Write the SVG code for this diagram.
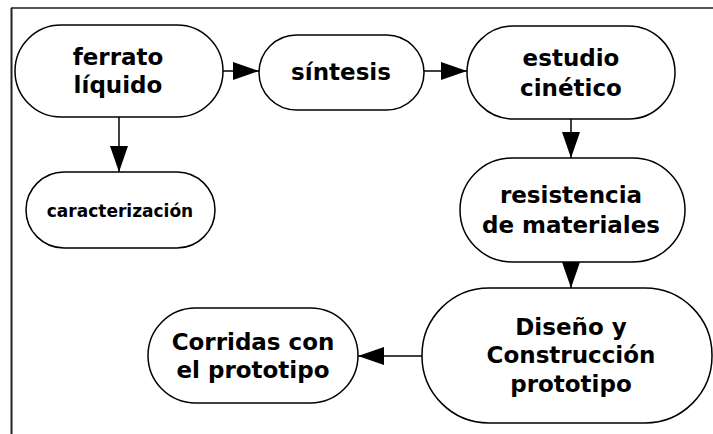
<svg xmlns="http://www.w3.org/2000/svg" width="713" height="434" viewBox="0 0 713 434">
<defs>
<style>
.n{fill:#fff;stroke:#000;stroke-width:1.5}
.t{font-family:"DejaVu Sans",Verdana,sans-serif;font-weight:bold;font-size:23px;fill:#000;text-anchor:middle}
.s{font-size:17px}
.c{stroke:#000;stroke-width:1.5;fill:none}
</style>
<marker id="ah" markerUnits="userSpaceOnUse" markerWidth="26" markerHeight="18" refX="26" refY="9" orient="auto">
<path d="M0,0 L26,9 L0,18 Z" fill="#000"/>
</marker>
</defs>
<rect width="713" height="434" fill="#fff"/>
<g id="frame">
<line x1="11" y1="8" x2="713" y2="8" stroke="#555" stroke-width="2"/>
<line x1="11.5" y1="8" x2="11.5" y2="434" stroke="#222" stroke-width="2"/>
</g>
<g id="connectors">
<line class="c" x1="223" y1="71" x2="259" y2="71" marker-end="url(#ah)"/>
<line class="c" x1="424" y1="71" x2="467" y2="71" marker-end="url(#ah)"/>
<line class="c" x1="119" y1="117" x2="119" y2="172" marker-end="url(#ah)"/>
<line class="c" x1="571" y1="119" x2="571" y2="158" marker-end="url(#ah)"/>
<line class="c" x1="571" y1="262" x2="571" y2="288" marker-end="url(#ah)"/>
<line class="c" x1="422" y1="356" x2="358" y2="356" marker-end="url(#ah)"/>
</g>
<g id="ferrato">
<rect class="n" x="15" y="25" width="208" height="92" rx="46"/>
<text class="t" x="118" y="65">ferrato</text>
<text class="t" x="118" y="93">líquido</text>
</g>
<g id="sintesis">
<rect class="n" x="259" y="35" width="165" height="75" rx="37.5"/>
<text class="t" x="341" y="80">síntesis</text>
</g>
<g id="estudio">
<rect class="n" x="467" y="26" width="208" height="93" rx="46.5"/>
<text class="t" x="571" y="66">estudio</text>
<text class="t" x="571" y="96">cinético</text>
</g>
<g id="caracterizacion">
<rect class="n" x="26" y="172" width="189" height="76" rx="38"/>
<text class="t s" x="120" y="217">caracterización</text>
</g>
<g id="resistencia">
<rect class="n" x="460" y="158" width="225" height="104" rx="52"/>
<text class="t" x="571" y="203">resistencia</text>
<text class="t" x="571" y="233">de materiales</text>
</g>
<g id="diseno">
<rect class="n" x="422" y="288" width="290" height="135" rx="67"/>
<text class="t" x="571" y="335">Diseño y</text>
<text class="t" x="571" y="363">Construcción</text>
<text class="t" x="571" y="392">prototipo</text>
</g>
<g id="corridas">
<rect class="n" x="148" y="308" width="210" height="95" rx="47.5"/>
<text class="t" x="253" y="350">Corridas con</text>
<text class="t" x="253" y="378">el prototipo</text>
</g>
</svg>
